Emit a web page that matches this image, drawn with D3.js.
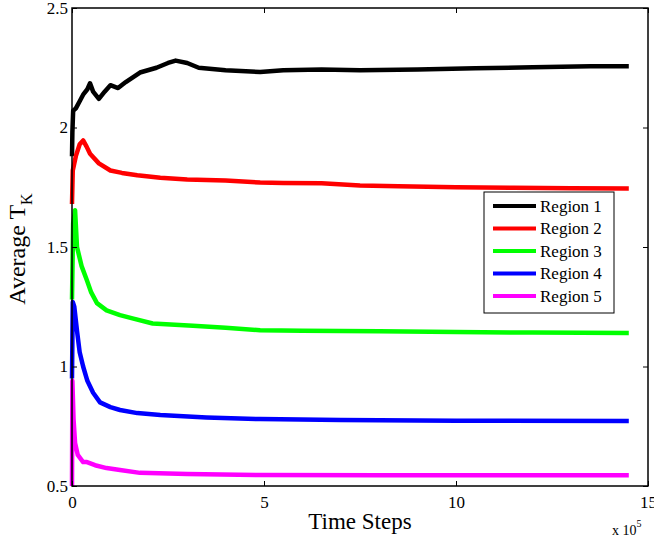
<!DOCTYPE html>
<html>
<head>
<meta charset="utf-8">
<script src="https://cdn.jsdelivr.net/npm/d3@7"></script>
<style>
  body { margin: 0; background: #fff; }
  text { font-family: "Liberation Serif", "Times New Roman", serif; }
</style>
</head>
<body>
<svg id="viz" width="654" height="541"></svg>
<script>
// time steps are in units of 10^5
var regionNames = ["Region 1", "Region 2", "Region 3", "Region 4", "Region 5"];
var regionColors = ["#000000", "#ff0000", "#00ff00", "#0000ff", "#ff00ff"];

var region1 = [
  [0, 1.88], [0.01, 1.98], [0.03, 2.07], [0.1, 2.08], [0.2, 2.11], [0.3, 2.14],
  [0.4, 2.16], [0.47, 2.185], [0.55, 2.15], [0.7, 2.12], [0.85, 2.15], [1.0, 2.177],
  [1.2, 2.165], [1.4, 2.19], [1.77, 2.23], [2.2, 2.25], [2.5, 2.27], [2.7, 2.28],
  [3.0, 2.27], [3.3, 2.25], [4.0, 2.24], [4.9, 2.232], [5.5, 2.24], [6.5, 2.243],
  [7.5, 2.24], [9.0, 2.243], [10.5, 2.248], [12.0, 2.252], [13.5, 2.256], [14.5, 2.256]
];
var region2 = [
  [0, 1.68], [0.02, 1.82], [0.1, 1.88], [0.2, 1.93], [0.29, 1.946], [0.38, 1.92],
  [0.47, 1.89], [0.7, 1.85], [1.0, 1.82], [1.3, 1.81], [1.7, 1.80], [2.3, 1.79],
  [3.0, 1.782], [4.0, 1.778], [4.9, 1.77], [5.5, 1.768], [6.5, 1.767], [7.5, 1.757],
  [8.5, 1.754], [10.0, 1.75], [11.5, 1.748], [13.0, 1.746], [14.5, 1.745]
];
var region3 = [
  [0, 1.28], [0.03, 1.60], [0.08, 1.654], [0.13, 1.5], [0.25, 1.42], [0.39, 1.36],
  [0.5, 1.31], [0.65, 1.265], [0.9, 1.235], [1.25, 1.215], [1.6, 1.2], [2.1, 1.18],
  [3.15, 1.17], [4.0, 1.162], [4.9, 1.152], [6.0, 1.15], [8.0, 1.148], [10.0, 1.144],
  [12.0, 1.142], [14.5, 1.14]
];
var region4 = [
  [0, 0.95], [0.02, 1.27], [0.06, 1.25], [0.13, 1.15], [0.2, 1.06], [0.29, 1.0],
  [0.4, 0.94], [0.55, 0.89], [0.73, 0.85], [1.0, 0.83], [1.25, 0.818], [1.7, 0.805],
  [2.3, 0.797], [3.5, 0.787], [4.9, 0.78], [7.0, 0.776], [10.0, 0.773], [14.5, 0.772]
];
var region5 = [
  [0, 0.5], [0.01, 0.94], [0.04, 0.78], [0.08, 0.68], [0.15, 0.63], [0.29, 0.60],
  [0.39, 0.60], [0.6, 0.587], [0.9, 0.575], [1.25, 0.567], [1.77, 0.555], [3.0, 0.55],
  [4.9, 0.546], [8.0, 0.545], [11.0, 0.545], [14.5, 0.545]
];
var regionData = [region1, region2, region3, region4, region5];

var xTicks = [0, 5, 10, 15];
var yTicks = [0.5, 1, 1.5, 2, 2.5];

var svg = d3.select("#viz");
var margin = { top: 8, left: 72, bottom: 55, right: 6 };
var width = +svg.attr("width") - margin.left - margin.right;
var height = +svg.attr("height") - margin.top - margin.bottom;

var x = d3.scaleLinear().domain([0, 15]).range([0, width]);
var y = d3.scaleLinear().domain([0.5, 2.5]).range([height, 0]);

var chart = svg
  .append("g")
  .attr("transform", "translate(" + margin.left + "," + margin.top + ")");

// lines
var line = d3
  .line()
  .x(function (d) { return x(d[0]); })
  .y(function (d) { return y(d[1]); });

chart
  .selectAll(".series")
  .data(regionData)
  .enter()
  .append("path")
  .attr("fill", "none")
  .attr("stroke", function (d, i) { return regionColors[i]; })
  .attr("stroke-width", 4.5)
  .attr("stroke-linejoin", "round")
  .attr("d", line);

// axes, MATLAB style box with inward ticks
function styleAxis(g) {
  g.select(".domain").remove();
  g.selectAll("line").attr("stroke", "#000");
  g.selectAll("text").attr("fill", "#000").style("font-size", "17px");
}

chart.append("g")
  .attr("transform", "translate(0," + height + ")")
  .call(d3.axisBottom(x).tickValues(xTicks).tickSizeInner(-5).tickSizeOuter(0).tickPadding(10))
  .call(styleAxis);
chart.append("g")
  .call(d3.axisTop(x).tickValues(xTicks).tickSizeInner(-5).tickSizeOuter(0).tickFormat(""))
  .call(styleAxis);
chart.append("g")
  .call(d3.axisLeft(y).tickValues(yTicks).tickSizeInner(-5).tickSizeOuter(0).tickPadding(4).tickFormat(d3.format("")))
  .call(styleAxis);
chart.append("g")
  .attr("transform", "translate(" + width + ",0)")
  .call(d3.axisRight(y).tickValues(yTicks).tickSizeInner(-5).tickSizeOuter(0).tickFormat(""))
  .call(styleAxis);

chart.append("rect")
  .attr("width", width)
  .attr("height", height)
  .attr("fill", "none")
  .attr("stroke", "#000")
  .attr("stroke-width", 1.5);

// axis labels
svg.append("text")
  .attr("x", margin.left + width / 2)
  .attr("y", 529)
  .attr("text-anchor", "middle")
  .style("font-size", "23px")
  .text("Time Steps");

svg.append("text")
  .attr("x", 612)
  .attr("y", 535)
  .style("font-size", "14px")
  .text("x 10")
  .append("tspan")
  .attr("dy", -8)
  .style("font-size", "10px")
  .text("5");

var yLabel = svg.append("text")
  .attr("transform", "translate(25,249) rotate(-90)")
  .attr("text-anchor", "middle")
  .style("font-size", "24px");
yLabel.append("tspan").text("Average T");
yLabel.append("tspan").attr("dy", 7).style("font-size", "16px").text("K");

// legend
var legend = svg.append("g").attr("transform", "translate(484,192)");
legend.append("rect")
  .attr("width", 130)
  .attr("height", 121)
  .attr("fill", "#fff")
  .attr("stroke", "#000")
  .attr("stroke-width", 1);

var item = legend
  .selectAll(".item")
  .data(regionNames)
  .enter()
  .append("g")
  .attr("transform", function (d, i) { return "translate(0," + (14 + i * 22.5) + ")"; });
item.append("line")
  .attr("x1", 9).attr("x2", 52)
  .attr("stroke", function (d, i) { return regionColors[i]; })
  .attr("stroke-width", 4);
item.append("text")
  .attr("x", 56)
  .attr("dy", "0.35em")
  .style("font-size", "17px")
  .text(function (d) { return d; });
</script>
</body>
</html>
